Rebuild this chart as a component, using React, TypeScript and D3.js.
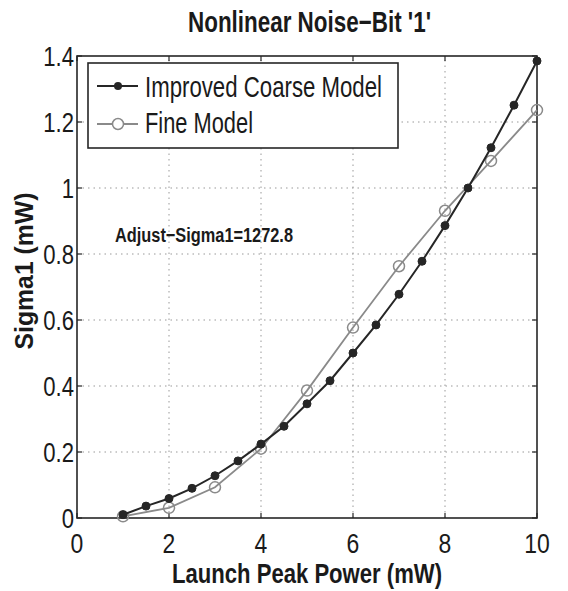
import React from "react";
import * as d3 from "d3";

const coarseX = [1, 1.5, 2, 2.5, 3, 3.5, 4, 4.5, 5, 5.5, 6, 6.5, 7, 7.5, 8, 8.5, 9, 9.5, 10];
const coarseY = [0.01, 0.036, 0.059, 0.09, 0.128, 0.173, 0.224, 0.278, 0.346, 0.416, 0.5, 0.585, 0.678, 0.778, 0.886, 1.0, 1.122, 1.251, 1.385];
const fineX = [1, 2, 3, 4, 5, 6, 7, 8, 9, 10];
const fineY = [0.005, 0.031, 0.093, 0.21, 0.386, 0.577, 0.763, 0.931, 1.082, 1.236];
const xTicks = [0, 2, 4, 6, 8, 10];
const yTicks = [0, 0.2, 0.4, 0.6, 0.8, 1, 1.2, 1.4];
const title = "Nonlinear Noise\u2212Bit '1'";
const xLabel = "Launch Peak Power (mW)";
const yLabel = "Sigma1 (mW)";
const annotation = "Adjust\u2212Sigma1=1272.8";
const legendNames = ["Improved Coarse Model", "Fine Model"];

const FONT = "'Liberation Sans Narrow', 'Arial Narrow', 'Liberation Sans', Arial, sans-serif";

export default function App() {
  const W = 568, H = 591;
  const x = d3.scaleLinear().domain([0, 10]).range([77, 537]);
  const y = d3.scaleLinear().domain([0, 1.4]).range([518, 56]);
  const coarse = coarseX.map((v, i) => [x(v), y(coarseY[i])] as [number, number]);
  const fine = fineX.map((v, i) => [x(v), y(fineY[i])] as [number, number]);
  const lp = d3.line();
  const dark = "#262626";
  const gray = "#8a8a8a";
  const [x0, x1] = x.range();
  const [y0, y1] = y.range();
  return (
    <svg width={W} height={H} style={{ position: "absolute", left: 0, top: 0, background: "#fff" }}>
      <rect x={0} y={0} width={W} height={H} fill="#fff" />
      {/* grid */}
      {xTicks.filter((t) => t > 0 && t < 10).map((t) => (
        <line key={"gx" + t} x1={x(t)} x2={x(t)} y1={y0} y2={y1} stroke="#999" strokeWidth={1} strokeDasharray="1.5,4" />
      ))}
      {yTicks.filter((t) => t > 0 && t < 1.4).map((t) => (
        <line key={"gy" + t} x1={x0} x2={x1} y1={y(t)} y2={y(t)} stroke="#999" strokeWidth={1} strokeDasharray="1.5,4" />
      ))}
      {/* ticks */}
      {xTicks.map((t) => (
        <g key={"tx" + t}>
          <line x1={x(t)} x2={x(t)} y1={y0} y2={y0 - 5} stroke={dark} strokeWidth={1.2} />
          <line x1={x(t)} x2={x(t)} y1={y1} y2={y1 + 5} stroke={dark} strokeWidth={1.2} />
          <text transform={`translate(${x(t)},553) scale(0.82,1)`} textAnchor="middle" fontFamily={FONT} fontSize={28} fill="#1a1a1a">{t}</text>
        </g>
      ))}
      {yTicks.map((t) => (
        <g key={"ty" + t}>
          <line x1={x0} x2={x0 + 5} y1={y(t)} y2={y(t)} stroke={dark} strokeWidth={1.2} />
          <line x1={x1} x2={x1 - 5} y1={y(t)} y2={y(t)} stroke={dark} strokeWidth={1.2} />
          <text transform={`translate(74,${y(t) + 9.5}) scale(0.82,1)`} textAnchor="end" fontFamily={FONT} fontSize={27} fill="#1a1a1a">{String(t)}</text>
        </g>
      ))}
      {/* frame */}
      <rect x={x0} y={y1} width={x1 - x0} height={y0 - y1} fill="none" stroke={dark} strokeWidth={1.6} />
      {/* series */}
      <path d={lp(fine) || ""} fill="none" stroke={gray} strokeWidth={1.8} />
      {fine.map((p, i) => (
        <circle key={"f" + i} cx={p[0]} cy={p[1]} r={5.5} fill="none" stroke={gray} strokeWidth={1.5} />
      ))}
      <path d={lp(coarse) || ""} fill="none" stroke={dark} strokeWidth={2} />
      {coarse.map((p, i) => (
        <circle key={"c" + i} cx={p[0]} cy={p[1]} r={4} fill={dark} stroke={dark} strokeWidth={1} />
      ))}
      {/* legend */}
      <rect x={88} y={63} width={310} height={85} fill="#fff" stroke={dark} strokeWidth={1.6} />
      <line x1={97} x2={138} y1={86} y2={86} stroke={dark} strokeWidth={2} />
      <circle cx={118} cy={86} r={4} fill={dark} />
      <text x={145} y={97} fontFamily={FONT} fontSize={29} fill="#1a1a1a" textLength={237} lengthAdjust="spacingAndGlyphs">{legendNames[0]}</text>
      <line x1={97} x2={138} y1={124} y2={124} stroke={gray} strokeWidth={1.8} />
      <circle cx={118} cy={124} r={5.5} fill="#fff" stroke={gray} strokeWidth={1.5} />
      <text x={145} y={133} fontFamily={FONT} fontSize={29} fill="#1a1a1a" textLength={108} lengthAdjust="spacingAndGlyphs">{legendNames[1]}</text>
      {/* annotation */}
      <text x={115} y={242} fontFamily={FONT} fontSize={20} fontWeight="bold" fill="#1a1a1a" textLength={178} lengthAdjust="spacingAndGlyphs">{annotation}</text>
      {/* title */}
      <text x={188} y={32} fontFamily={FONT} fontSize={29} fontWeight="bold" fill="#1a1a1a" textLength={243} lengthAdjust="spacingAndGlyphs">{title}</text>
      {/* axis labels */}
      <text x={172} y={583} fontFamily={FONT} fontSize={28} fontWeight="bold" fill="#1a1a1a" textLength={270} lengthAdjust="spacingAndGlyphs">{xLabel}</text>
      <text transform="translate(33,271) rotate(-90)" textAnchor="middle" fontFamily={FONT} fontSize={25} fontWeight="bold" fill="#1a1a1a" textLength={157} lengthAdjust="spacingAndGlyphs">{yLabel}</text>
    </svg>
  );
}
